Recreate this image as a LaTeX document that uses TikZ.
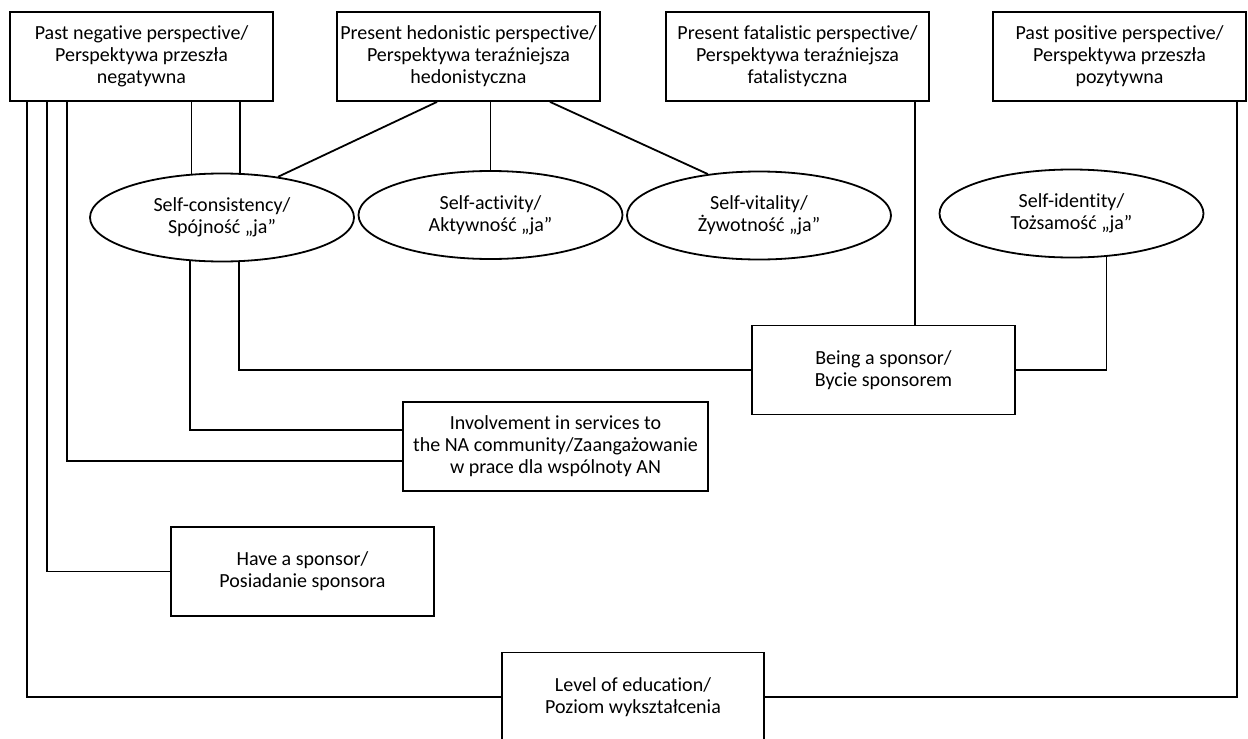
\documentclass[tikz,border=0pt]{standalone}
\usepackage{fontspec}
\setmainfont{Carlito}[Ligatures=NoCommon]
\usetikzlibrary{calc, positioning, shapes.geometric}

\begin{document}
\begin{tikzpicture}[x=0.5pt, y=-0.5pt, line width=0.9pt,
    box/.style={draw, rectangle, align=center, inner sep=0pt,
        minimum width=131.5pt, minimum height=44.5pt,
        font=\fontsize{10}{11}\selectfont},
    oval/.style={draw, ellipse, align=center, inner sep=0pt,
        minimum width=132pt, minimum height=44pt,
        font=\fontsize{10}{11}\selectfont}]
    \useasboundingbox (0,0) rectangle (1248,739);

    % Time perspectives on top
    \node[box] (pastneg) at (141.5,56.5) {Past negative perspective/\\Perspektywa przeszła\\negatywna};
    \node[box] (hedon) at (468.5,56.5) {Present hedonistic perspective/\\Perspektywa teraźniejsza\\hedonistyczna};
    \node[box] (fatal) at (797.5,56.5) {Present fatalistic perspective/\\Perspektywa teraźniejsza\\fatalistyczna};
    \node[box, minimum width=126.5pt] (pastpos) at (1119.5,56.5) {Past positive perspective/\\Perspektywa przeszła\\pozytywna};

    % Self aspects
    \node[oval] (selfcons) at (222,217.5) {Self-consistency/\\Spójność „ja”};
    \node[oval] (selfact) at (490.5,215) {Self-activity/\\Aktywność „ja”};
    \node[oval] (selfvit) at (759,215.5) {Self-vitality/\\Żywotność „ja”};
    \node[oval] (selfid) at (1071.5,213.5) {Self-identity/\\Tożsamość „ja”};

    % Variables below
    \node[box] (being) at (883.5,370) {Being a sponsor/\\Bycie sponsorem};
    \node[box, minimum width=152.5pt] (involv) at (555.5,446.5) {Involvement in services to\\the NA community/Zaangażowanie\\w prace dla wspólnoty AN};
    \node[box] (havesp) at (302.5,571.5) {Have a sponsor/\\Posiadanie sponsora};
    \node[box, minimum width=131pt] (level) at (633,697) {Level of education/\\Poziom wykształcenia};

    % Lines from the past negative perspective
    \draw ($(pastneg.south)+(-114.5,0)$) |- (level.west);
    \draw ($(pastneg.south)+(-94.5,0)$) |- (havesp.west);
    \draw ($(pastneg.south)+(-74.5,0)$) |- ($(involv.west)+(0,14.5)$);
    \draw (selfcons.125) -- (selfcons.125 |- pastneg.south);
    \draw (selfcons.68.7) -- (selfcons.68.7 |- pastneg.south);

    % Lines from the present hedonistic perspective
    \draw ($(hedon.south)+(-31.5,0)$) -- (selfcons.36.7);
    \draw (hedon.south -| selfact.north) -- (selfact.north);
    \draw ($(hedon.south)+(81.5,0)$) -- (selfvit.141);

    % Lines to being a sponsor
    \draw ($(fatal.south)+(117.5,0)$) coordinate (f1) -- (f1 |- being.north);
    \draw (selfid.-51.8) |- (being.east);
    \draw (selfcons.291.3) |- (being.west);
    \draw (selfcons.234.1) |- ($(involv.west)+(0,-16.5)$);

    % Line from the past positive perspective
    \draw ($(pastpos.south)+(117.5,0)$) |- (level.east);
\end{tikzpicture}
\end{document}
